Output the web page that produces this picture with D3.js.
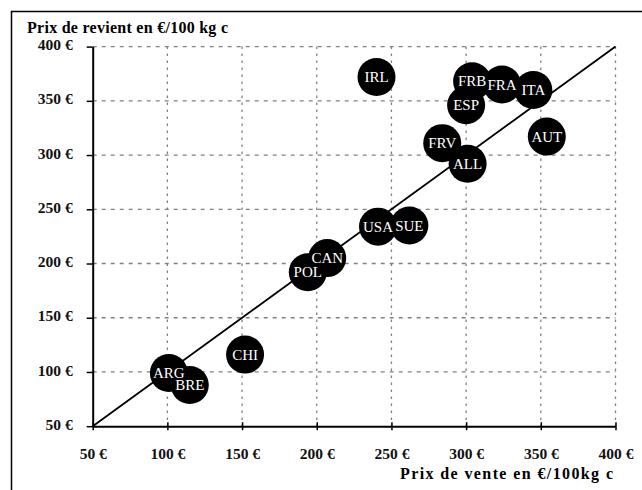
<!DOCTYPE html>
<html>
<head>
<meta charset="utf-8">
<script src="https://cdn.jsdelivr.net/npm/d3@7"></script>
<style>
  body { margin: 0; background: #fff; }
  svg { display: block; }
  .tick text { font-family: "Liberation Serif", serif; font-weight: bold; font-size: 15.5px; fill: #111; }
</style>
</head>
<body>
<svg id="chart" width="642" height="490"></svg>
<script>
// pays, prix de vente (x) et prix de revient (y), en €/100 kg c
var pays = ["ARG", "BRE", "CHI", "POL", "CAN", "USA", "SUE", "IRL", "FRV", "ALL", "ESP", "FRB", "FRA", "ITA", "AUT"];
var prixVente = [101, 115, 152, 194, 207, 241, 262, 240, 284, 301, 300, 304, 324, 345, 354];
var prixRevient = [99, 88, 116, 192, 205, 234, 235, 372, 311, 292, 346, 368, 365, 360, 317];
var ticks = [50, 100, 150, 200, 250, 300, 350, 400];

(function(){
  var svg = d3.select("#chart");
  var pLeft = 92.7, pRight = 615.5, pTop = 46.6, pBottom = 426.2;

  var x = d3.scaleLinear().domain([50, 400]).range([pLeft, pRight]);
  var y = d3.scaleLinear().domain([50, 400]).range([pBottom, pTop]);

  // cadre (haut + gauche seulement visibles)
  svg.append("rect")
      .attr("x", 11.5).attr("y", 11.5)
      .attr("width", 700).attr("height", 600)
      .attr("fill", "none").attr("stroke", "#000").attr("stroke-width", 1.5);

  // grille pointillée
  var grid = svg.append("g");
  grid.selectAll(".hg").data(ticks.slice(1)).enter().append("line")
      .attr("x1", pLeft).attr("x2", pRight)
      .attr("y1", d => y(d)).attr("y2", d => y(d))
      .attr("stroke", "#808080").attr("stroke-dasharray", "4,5").attr("stroke-width", 1.3);
  grid.selectAll(".vg").data(ticks.slice(1)).enter().append("line")
      .attr("x1", d => x(d)).attr("x2", d => x(d))
      .attr("y1", pTop).attr("y2", pBottom)
      .attr("stroke", "#808080").attr("stroke-dasharray", "2.5,4.5").attr("stroke-width", 1.3);

  // axes
  var fmt = d => d + " €";
  svg.append("g")
      .attr("transform", "translate(0," + pBottom + ")")
      .call(d3.axisBottom(x).tickValues(ticks).tickFormat(fmt).tickSizeInner(4).tickSizeOuter(0).tickPadding(17.5))
      .selectAll(".tick line").attr("y1", -4);
  var yAxis = svg.append("g")
      .attr("transform", "translate(" + pLeft + ",0)")
      .call(d3.axisLeft(y).tickValues(ticks).tickFormat(fmt).tickSizeInner(6).tickSizeOuter(0).tickPadding(14));
  yAxis.selectAll(".tick text").attr("dy", "0.2em");
  svg.selectAll(".domain").attr("stroke", "#000").attr("stroke-width", 2);
  svg.selectAll(".tick line").attr("stroke", "#000").attr("stroke-width", 1.5);

  // diagonale prix de vente = prix de revient
  svg.append("line")
      .attr("x1", x(50)).attr("y1", y(50))
      .attr("x2", x(400)).attr("y2", y(400))
      .attr("stroke", "#000").attr("stroke-width", 1.8);

  // bulles
  svg.append("g").selectAll("circle").data(pays).enter().append("circle")
      .attr("cx", (d, i) => x(prixVente[i]))
      .attr("cy", (d, i) => y(prixRevient[i]))
      .attr("r", 19)
      .attr("fill", "#000");

  svg.append("g").selectAll("text").data(pays).enter().append("text")
      .attr("x", (d, i) => x(prixVente[i]))
      .attr("y", (d, i) => y(prixRevient[i]) + 5)
      .attr("text-anchor", "middle")
      .attr("fill", "#fff")
      .attr("font-family", "Liberation Serif, serif")
      .attr("font-size", "15px")
      .text(d => d);

  // titres des axes
  svg.append("text")
      .attr("x", 27).attr("y", 33)
      .attr("font-family", "Liberation Serif, serif").attr("font-weight", "bold").attr("font-size", "16px")
      .attr("textLength", 201).attr("lengthAdjust", "spacing")
      .text("Prix de revient en €/100 kg c");
  svg.append("text")
      .attr("x", 400).attr("y", 479)
      .attr("font-family", "Liberation Serif, serif").attr("font-weight", "bold").attr("font-size", "16px")
      .attr("textLength", 213).attr("lengthAdjust", "spacing")
      .text("Prix de vente en €/100kg c");
})();
</script>
</body>
</html>
